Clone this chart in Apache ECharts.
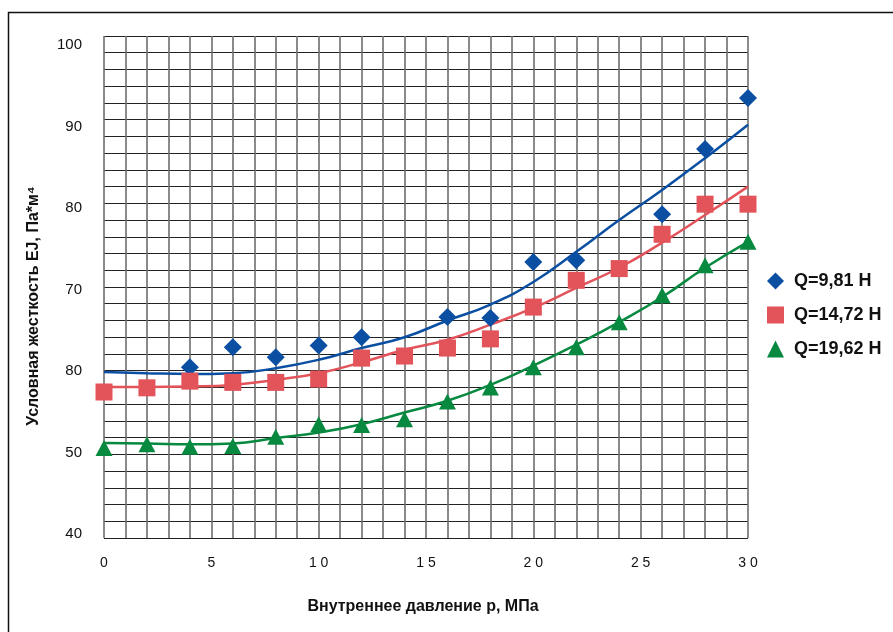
<!DOCTYPE html>
<html><head><meta charset="utf-8">
<script src="https://cdn.jsdelivr.net/npm/echarts@6/dist/echarts.min.js"></script>
<style>html,body{margin:0;padding:0;background:#fff}#c{width:893px;height:632px}</style>
</head><body><div id="c"></div>
<script>
// pressure, MPa
const xFit = [0,2,4,6,8,10,12,14,16,18,20,22,24,26,28,30];
const xBlue = [4,6,8,10,12,16,18,20,22,26,28,30];
const blueVals = [60.4,62.8,61.6,63.0,64.0,66.4,66.3,73.0,73.2,78.7,86.5,92.6];
const xRed = [0,2,4,6,8,10,12,14,16,18,20,22,24,26,28,30];
const redVals = [57.45,57.95,58.75,58.6,58.6,59.0,61.5,61.75,62.7,63.8,67.6,70.8,72.2,76.3,79.9,79.9];
const xGreen = [0,2,4,6,8,10,12,14,16,18,20,22,24,26,28,30];
const greenVals = [50.75,51.2,50.9,51.0,52.1,53.6,53.5,54.2,56.3,58.0,60.4,62.8,65.8,69.0,72.6,75.4];
// trend curves
const blueFit = [59.85,59.7,59.6,59.7,60.3,61.3,62.7,64.0,66.0,67.9,70.6,74.2,78.0,81.6,85.4,89.4];
const redFit = [58.05,58.05,58.1,58.3,58.9,59.7,61.0,62.5,63.7,65.5,67.5,69.9,72.3,75.3,78.6,82.0];
const greenFit = [51.35,51.3,51.2,51.3,51.95,52.6,53.6,55.0,56.4,58.3,60.6,63.1,65.8,68.8,72.3,75.4];
const names = ['Q=9,81 Н','Q=14,72 Н','Q=19,62 Н'];
const xTickValues = [0,5,10,15,20,25,30];
const xTickLabels = ['0','5','1 0','1 5','2 0','2 5','3 0'];
const yTickValues = [40,50,60,70,80,90,100];
const yTickLabels = ['40','50','80','70','80','90','100'];
const xTitle = 'Внутреннее давление р, МПа';
const yTitle = 'Условная жесткость EJ, Па*м⁴';

const BLUE='#0b4fa2', RED='#e2535a', GREEN='#07893f';
const zip = (xs, ys) => xs.map((x,i)=>[x, ys[i]]);
const chart = echarts.init(document.getElementById('c'), null, {renderer:'canvas'});
const font = 'Liberation Sans';
chart.setOption({
  animation:false,
  backgroundColor:'#fff',
  grid:{left:104, right:145, top:36, bottom:94},
  xAxis:{type:'value', min:0, max:30, interval:1,
    axisLine:{show:false}, axisTick:{show:false},
    splitLine:{show:true, lineStyle:{color:'#6e6e6e', width:1.6}},
    axisLabel:{customValues:xTickValues, margin:18, color:'#111', fontFamily:font, fontSize:14,
      formatter:(v)=>xTickLabels[xTickValues.indexOf(v)]}},
  yAxis:[
    {type:'value', min:40, max:100, interval:2,
      axisLine:{show:false}, axisTick:{show:false}, axisLabel:{show:false},
      splitLine:{show:true, lineStyle:{color:'#222', width:1.2}}},
    {type:'value', min:39.51, max:101.11, position:'left',
      axisLine:{show:false}, axisTick:{show:false}, splitLine:{show:false},
      axisLabel:{customValues:yTickValues, margin:22, color:'#111', fontFamily:font, fontSize:15,
        formatter:(v)=>yTickLabels[yTickValues.indexOf(v)]}}
  ],
  legend:{data:names, orient:'vertical', left:762, top:266, itemWidth:17, itemHeight:17, itemGap:14,
    textStyle:{fontFamily:font, fontWeight:'bold', fontSize:18, color:'#111', padding:[0,0,0,5], lineHeight:20}},
  graphic:[
    {type:'rect', left:6, top:10, shape:{width:1000, height:800}, style:{fill:'none', stroke:'#111', lineWidth:1.5}, silent:true},
    {type:'text', x:423, y:607, style:{text:xTitle, fontFamily:font, fontWeight:'bold', fontSize:16, fill:'#111', align:'center', verticalAlign:'middle'}},
    {type:'text', x:34, y:306, rotation:Math.PI/2, style:{text:yTitle, fontFamily:font, fontWeight:'bold', fontSize:16, fill:'#111', align:'center', verticalAlign:'middle'}}
  ],
  series:[
    {type:'line', data:zip(xFit, blueFit), smooth:true, showSymbol:false, symbol:'none', lineStyle:{color:BLUE, width:2.5}, z:2},
    {type:'line', data:zip(xFit, redFit), smooth:true, showSymbol:false, symbol:'none', lineStyle:{color:RED, width:2.5}, z:2},
    {type:'line', data:zip(xFit, greenFit), smooth:true, showSymbol:false, symbol:'none', lineStyle:{color:GREEN, width:2.5}, z:2},
    {name:names[0], type:'scatter', data:zip(xBlue, blueVals), symbol:'diamond', symbolSize:18, itemStyle:{color:BLUE, opacity:1}, z:3},
    {name:names[1], type:'scatter', data:zip(xRed, redVals), symbol:'rect', symbolSize:17, itemStyle:{color:RED, opacity:1}, z:3},
    {name:names[2], type:'scatter', data:zip(xGreen, greenVals), symbol:'triangle', symbolSize:[17,16], itemStyle:{color:GREEN, opacity:1}, z:3}
  ]
});
</script></body></html>
